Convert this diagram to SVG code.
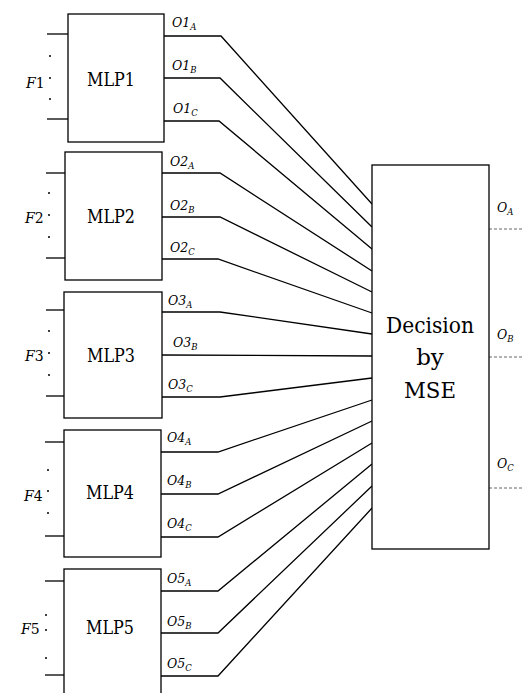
<svg xmlns="http://www.w3.org/2000/svg" width="523" height="693" viewBox="0 0 523 693">
<style>
.box{fill:#fff;stroke:#000;stroke-width:1.3}
.w{fill:none;stroke:#000;stroke-width:1.3}
.in{fill:none;stroke:#000;stroke-width:1.3}
.dot{fill:#000}
.t{font-family:'DejaVu Serif','Liberation Serif',serif;fill:#000}
.mlp{font-size:18px;text-anchor:middle}
.f{font-size:14px}
.o{font-size:12.5px;font-style:italic}
.sub{font-size:8.5px}
.dec{font-size:23px;text-anchor:middle}
.out{fill:none;stroke:#666;stroke-width:1;stroke-dasharray:3 2}
</style>
<rect width="523" height="693" fill="#fff"/>
<g id="connectors">
<polyline class="w" points="164,36 221,36 372,204"/>
<polyline class="w" points="164,78 220,78 372,227"/>
<polyline class="w" points="164,121 219,121 372,249"/>
<polyline class="w" points="162,173 220,173 372,271"/>
<polyline class="w" points="162,217 220,217 372,292"/>
<polyline class="w" points="162,259 218,259 372,313"/>
<polyline class="w" points="162,312 220,312 372,334"/>
<polyline class="w" points="162,355 372,356"/>
<polyline class="w" points="162,397 220,397 372,378"/>
<polyline class="w" points="161,452 218,452 372,400"/>
<polyline class="w" points="161,494 218,494 372,421"/>
<polyline class="w" points="161,537 218,537 372,443"/>
<polyline class="w" points="161,591 218,591 372,464"/>
<polyline class="w" points="161,633 218,633 372,486"/>
<polyline class="w" points="161,676 218,676 372,508"/>
<line class="out" x1="489" y1="229" x2="523" y2="229"/>
<line class="out" x1="489" y1="357" x2="523" y2="357"/>
<line class="out" x1="489" y1="488" x2="523" y2="488"/>
</g>
<g id="mlp1">
<line class="in" x1="47" y1="34" x2="68" y2="34"/>
<line class="in" x1="47" y1="119" x2="68" y2="119"/>
<circle class="dot" cx="50" cy="56" r="1"/><circle class="dot" cx="50" cy="78" r="1"/><circle class="dot" cx="50" cy="99" r="1"/>
<text class="t f" x="26" y="88"><tspan font-style="italic">F</tspan>1</text>
<rect class="box" x="68" y="14" width="96" height="128"/>
<text class="t mlp" x="111" y="86" textLength="48" lengthAdjust="spacingAndGlyphs">MLP1</text>
<text class="t o" x="172" y="27">O1<tspan class="sub" dy="3">A</tspan></text>
<text class="t o" x="172" y="70">O1<tspan class="sub" dy="3">B</tspan></text>
<text class="t o" x="173" y="113">O1<tspan class="sub" dy="3">C</tspan></text>
</g>
<g id="mlp2">
<line class="in" x1="46" y1="173" x2="65" y2="173"/>
<line class="in" x1="46" y1="258" x2="65" y2="258"/>
<circle class="dot" cx="49" cy="193" r="1"/><circle class="dot" cx="49" cy="215" r="1"/><circle class="dot" cx="49" cy="237" r="1"/>
<text class="t f" x="25" y="223"><tspan font-style="italic">F</tspan>2</text>
<rect class="box" x="65" y="152" width="97" height="128"/>
<text class="t mlp" x="111" y="223" textLength="48" lengthAdjust="spacingAndGlyphs">MLP2</text>
<text class="t o" x="170" y="166">O2<tspan class="sub" dy="3">A</tspan></text>
<text class="t o" x="170" y="210">O2<tspan class="sub" dy="3">B</tspan></text>
<text class="t o" x="170" y="252">O2<tspan class="sub" dy="3">C</tspan></text>
</g>
<g id="mlp3">
<line class="in" x1="46" y1="310" x2="64" y2="310"/>
<line class="in" x1="46" y1="396" x2="64" y2="396"/>
<circle class="dot" cx="49" cy="331" r="1"/><circle class="dot" cx="49" cy="353" r="1"/><circle class="dot" cx="49" cy="375" r="1"/>
<text class="t f" x="25" y="361"><tspan font-style="italic">F</tspan>3</text>
<rect class="box" x="64" y="292" width="98" height="126"/>
<text class="t mlp" x="111" y="362" textLength="48" lengthAdjust="spacingAndGlyphs">MLP3</text>
<text class="t o" x="168" y="305">O3<tspan class="sub" dy="3">A</tspan></text>
<text class="t o" x="173" y="347">O3<tspan class="sub" dy="3">B</tspan></text>
<text class="t o" x="168" y="389">O3<tspan class="sub" dy="3">C</tspan></text>
</g>
<g id="mlp4">
<line class="in" x1="45" y1="442" x2="64" y2="442"/>
<line class="in" x1="45" y1="536" x2="64" y2="536"/>
<circle class="dot" cx="48" cy="470" r="1"/><circle class="dot" cx="48" cy="491" r="1"/><circle class="dot" cx="48" cy="513" r="1"/>
<text class="t f" x="24" y="501"><tspan font-style="italic">F</tspan>4</text>
<rect class="box" x="64" y="430" width="97" height="127"/>
<text class="t mlp" x="110" y="499" textLength="48" lengthAdjust="spacingAndGlyphs">MLP4</text>
<text class="t o" x="167" y="442">O4<tspan class="sub" dy="3">A</tspan></text>
<text class="t o" x="167" y="485">O4<tspan class="sub" dy="3">B</tspan></text>
<text class="t o" x="167" y="528">O4<tspan class="sub" dy="3">C</tspan></text>
</g>
<g id="mlp5">
<line class="in" x1="45" y1="581" x2="64" y2="581"/>
<line class="in" x1="45" y1="675" x2="64" y2="675"/>
<circle class="dot" cx="46" cy="615" r="1"/><circle class="dot" cx="46" cy="630" r="1"/><circle class="dot" cx="46" cy="658" r="1"/>
<text class="t f" x="21" y="634"><tspan font-style="italic">F</tspan>5</text>
<rect class="box" x="64" y="569" width="97" height="140"/>
<text class="t mlp" x="110" y="634" textLength="48" lengthAdjust="spacingAndGlyphs">MLP5</text>
<text class="t o" x="167" y="583">O5<tspan class="sub" dy="3">A</tspan></text>
<text class="t o" x="167" y="626">O5<tspan class="sub" dy="3">B</tspan></text>
<text class="t o" x="167" y="668">O5<tspan class="sub" dy="3">C</tspan></text>
</g>
<g id="decision">
<rect class="box" x="372" y="165" width="117" height="384"/>
<text class="t dec" x="430" y="333" textLength="88" lengthAdjust="spacingAndGlyphs">Decision</text>
<text class="t dec" x="430" y="365">by</text>
<text class="t dec" x="430" y="398" textLength="52" lengthAdjust="spacingAndGlyphs">MSE</text>
</g>
<g id="outputs">
<text class="t o" x="497" y="212">O<tspan class="sub" dy="3">A</tspan></text>
<text class="t o" x="497" y="339">O<tspan class="sub" dy="3">B</tspan></text>
<text class="t o" x="497" y="468">O<tspan class="sub" dy="3">C</tspan></text>
</g>
</svg>
